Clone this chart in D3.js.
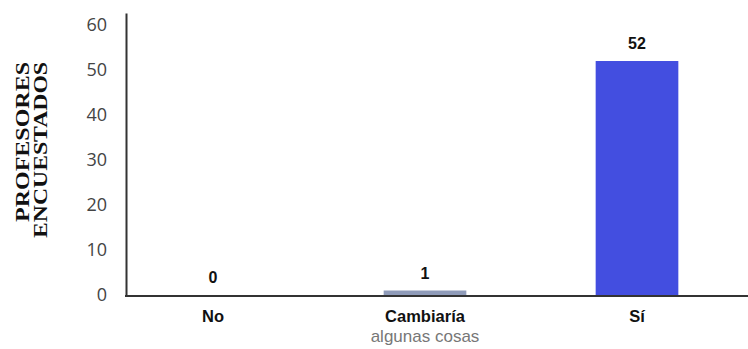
<!DOCTYPE html>
<html>
<head>
<meta charset="utf-8">
<script src="https://cdn.jsdelivr.net/npm/d3@7"></script>
<style>
  html, body { margin: 0; padding: 0; background: #fff; }
  svg { display: block; }
</style>
</head>
<body>
<div id="chart"></div>
<script>
// Survey answers: number of teachers per response
const categories = ["No", "Cambiaría", "Sí"];
const subLabels = ["", "algunas cosas", ""];
const values = [0, 1, 52];
const barColors = ["#8f9bb9", "#8f9bb9", "#434ee0"];
const yTicks = [0, 10, 20, 30, 40, 50, 60];
const yTitle = ["PROFESORES", "ENCUESTADOS"];

const W = 748, H = 349;
const svg = d3.select("#chart").append("svg")
  .attr("width", W).attr("height", H);

const x = d3.scaleBand()
  .domain(categories)
  .range([107, 743])
  .paddingInner(0.61)
  .paddingOuter(0.305);

const y = d3.scaleLinear()
  .domain([0, 62.67])
  .range([295, 13]);

// Bars
svg.append("g").selectAll("rect")
  .data(values)
  .join("rect")
  .attr("x", (d, i) => x(categories[i]))
  .attr("y", d => y(d))
  .attr("width", x.bandwidth())
  .attr("height", d => y(0) - y(d))
  .attr("fill", (d, i) => barColors[i]);

// Value labels
svg.append("g").selectAll("text")
  .data(values)
  .join("text")
  .attr("x", (d, i) => x(categories[i]) + x.bandwidth() / 2)
  .attr("y", d => y(d) - 12)
  .attr("text-anchor", "middle")
  .attr("font-family", "'Liberation Sans', sans-serif")
  .attr("font-weight", "bold")
  .attr("font-size", 16)
  .attr("fill", "#111")
  .text(d => d);

// Y axis
const yAxis = svg.append("g")
  .attr("transform", "translate(126,0)")
  .call(d3.axisLeft(y).tickValues(yTicks).tickSize(0).tickPadding(19));
yAxis.select(".domain").attr("stroke", "#333").attr("stroke-width", 2);
yAxis.selectAll("text")
  .attr("font-family", "'Open Sans', sans-serif")
  .attr("font-size", 18)
  .attr("fill", "#444");

// X axis
const xAxis = svg.append("g")
  .attr("transform", `translate(0,${y(0) + 1})`)
  .call(d3.axisBottom(x).tickSize(0).tickPadding(14));
xAxis.select(".domain").remove();
svg.append("line")
  .attr("x1", 125).attr("x2", W)
  .attr("y1", y(0) + 1).attr("y2", y(0) + 1)
  .attr("stroke", "#333").attr("stroke-width", 2);
xAxis.selectAll("text")
  .attr("font-family", "'Liberation Sans', sans-serif")
  .attr("font-weight", "bold")
  .attr("font-size", 16.5)
  .attr("fill", "#111");

// Second line of the category labels
svg.append("g").selectAll("text")
  .data(subLabels)
  .join("text")
  .attr("x", (d, i) => x(categories[i]) + x.bandwidth() / 2)
  .attr("y", 342)
  .attr("text-anchor", "middle")
  .attr("font-family", "'Liberation Sans', sans-serif")
  .attr("font-size", 17)
  .attr("fill", "#777")
  .text(d => d);

// Y axis title (two rotated lines, aligned at the top)
svg.append("g")
  .attr("transform", "rotate(-90)")
  .selectAll("text")
  .data(yTitle)
  .join("text")
  .attr("x", -62)
  .attr("y", (d, i) => 29 + i * 18)
  .attr("text-anchor", "end")
  .attr("font-family", "'Liberation Serif', serif")
  .attr("font-weight", "bold")
  .attr("font-size", 19)
  .attr("textLength", (d, i) => (i === 0 ? 160 : 176))
  .attr("lengthAdjust", "spacingAndGlyphs")
  .attr("fill", "#111")
  .text(d => d);
</script>
</body>
</html>
